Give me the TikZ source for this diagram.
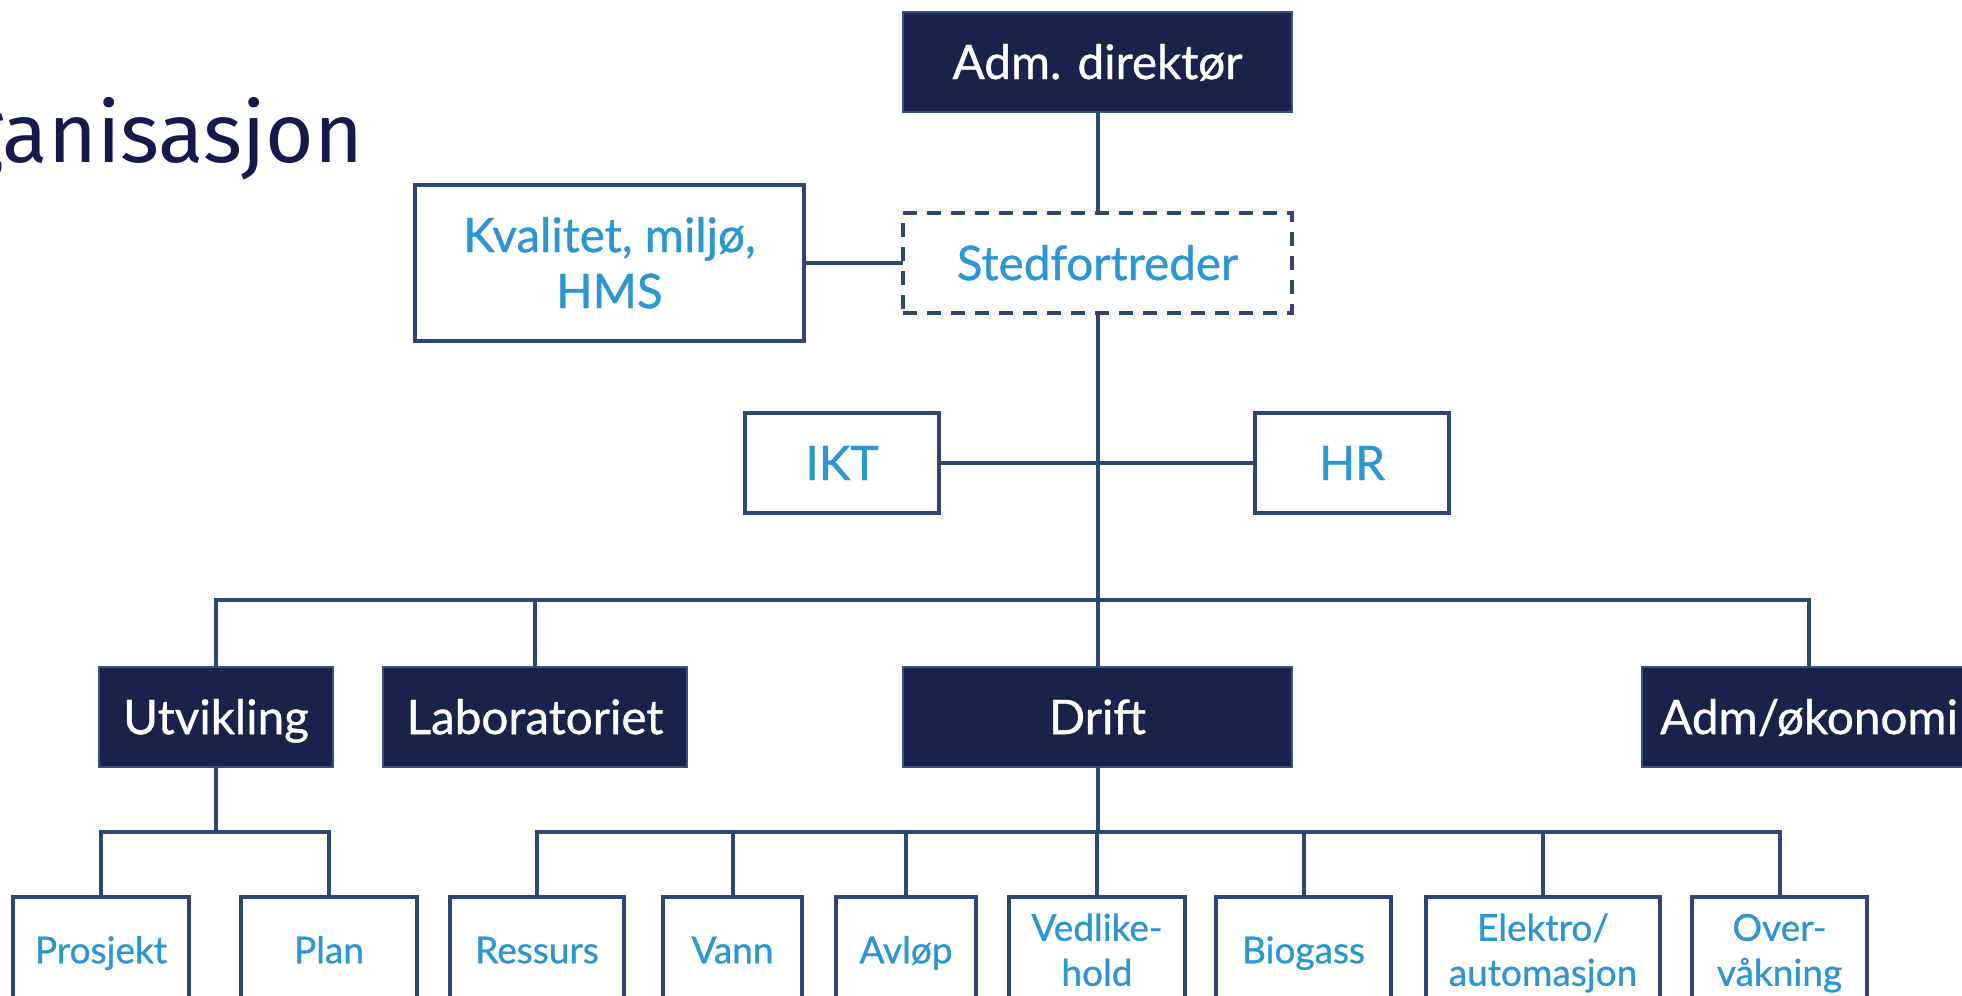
\documentclass[tikz,border=0pt]{standalone}
\usepackage{fontspec}
\setmainfont{Lato}[FakeBold=0.8]
\newfontfamily\titlefont{Fira Sans}
\definecolor{navy}{HTML}{17234B}
\definecolor{navyedge}{HTML}{3A5285}
\definecolor{linec}{HTML}{2E4676}
\definecolor{textblue}{HTML}{2B96D4}
\definecolor{titlec}{HTML}{16194D}
\begin{document}
\begin{tikzpicture}[x=0.5pt,y=-0.5pt,
 every node/.style={inner sep=0pt, outer sep=0pt},
 dark/.style={fill=navy, draw=navyedge, line width=0.8pt, text=white, font=\fontsize{23.8}{28}\selectfont, text height=17.05pt, text depth=0pt, minimum height=50pt},
 light/.style={fill=white, draw=linec, line width=2pt, text=textblue, font=\fontsize{23.8}{28}\selectfont, text height=17.05pt, text depth=0pt, align=center, minimum height=50pt},
 small/.style={fill=white, draw=linec, line width=2pt, text=textblue, font=\fontsize{18.5}{22.5}\selectfont, text height=13.25pt, text depth=0pt, align=center, minimum height=53pt},
 twoline/.style={text height=35.75pt, text depth=0pt},
 conn/.style={draw=linec, line width=2pt}]
\useasboundingbox (0,0) rectangle (1962,995);
\clip (0,0) rectangle (1962,995);

\node[anchor=base east, font=\titlefont\fontsize{41.7}{50}\selectfont, text=titlec] (title) at (363,162) {ganisasjon};

\node[dark, minimum width=194.5pt] (adm) at (1097.5,62) {Adm. direktør};
\node[light, dash pattern=on 7pt off 5pt, minimum width=194.5pt] (sted) at (1097.5,263) {Stedfortreder};
\node[light, minimum width=194.5pt, minimum height=78pt, text height=45.05pt, text depth=0pt] (kval) at (609.5,263) {Kvalitet, miljø,\\HMS};
\node[light, minimum width=97pt] (ikt) at (842,463) {IKT};
\node[light, minimum width=97pt] (hr) at (1352,463) {HR};

\node[dark, minimum width=117pt] (utv) at (216,717) {Utvikling};
\node[dark, minimum width=152pt] (lab) at (535,717) {Laboratoriet};
\node[dark, minimum width=194.5pt] (drift) at (1097.5,717) {Drift};
\node[dark, minimum width=167pt] (admok) at (1809,717) {Adm/økonomi};

\node[small, minimum width=88pt] (pro) at (101,950) {Prosjekt};
\node[small, minimum width=88pt] (plan) at (329,950) {Plan};
\node[small, minimum width=87pt] (res) at (537,950) {Ressurs};
\node[small, minimum width=69.5pt] (vann) at (732.5,950) {Vann};
\node[small, minimum width=70pt] (avl) at (906,950) {Avløp};
\node[small, twoline, minimum width=88pt] (ved) at (1097,950) {Vedlike-\\hold};
\node[small, minimum width=87.5pt] (bio) at (1303.5,950) {Biogass};
\node[small, twoline, minimum width=117pt] (ele) at (1543,950) {Elektro/\\automasjon};
\node[small, twoline, minimum width=87.5pt] (ovr) at (1779.5,950) {Over-\\våkning};

\coordinate (bus) at (1097,600);
\coordinate (ub) at (217,832);
\coordinate (db) at (1097,832);

\draw[conn] (adm.south) -- (sted.north);
\draw[conn] (kval.east) -- (sted.west);
\draw[conn] (sted.south) -- (drift.north);
\draw[conn] (ikt.east) -- (hr.west);
\draw[conn] (utv.north) -- (utv.north |- bus) -- (admok.north |- bus) -- (admok.north);
\draw[conn] (lab.north) -- (lab.north |- bus);
\draw[conn] (utv.south) -- (utv.south |- ub);
\draw[conn] (pro.north) -- (pro.north |- ub) -- (plan.north |- ub) -- (plan.north);
\draw[conn] (drift.south) -- (drift.south |- db);
\draw[conn] (res.north) -- (res.north |- db) -- (ovr.north |- db) -- (ovr.north);
\foreach \n in {vann,avl,ved,bio,ele} \draw[conn] (\n.north) -- (\n.north |- db);
\end{tikzpicture}
\end{document}
